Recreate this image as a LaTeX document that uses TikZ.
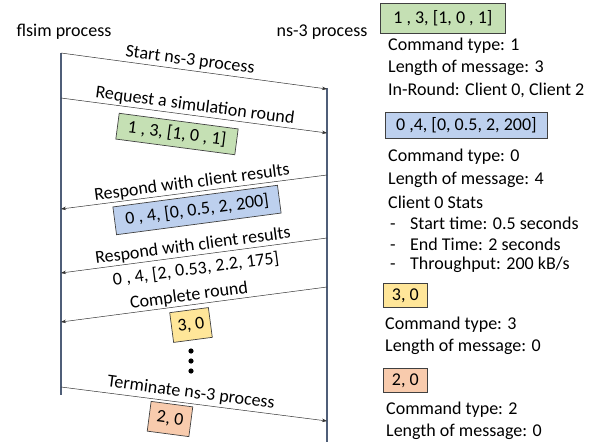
\documentclass[tikz,border=0pt]{standalone}
\usepackage{fontspec}
\setmainfont{Carlito}
\usetikzlibrary{arrows.meta}
\definecolor{lifeline}{HTML}{4F5E78}
\definecolor{boxgreen}{HTML}{C5E0B4}
\definecolor{boxblue}{HTML}{BDD0EE}
\definecolor{boxyellow}{HTML}{FFE699}
\definecolor{boxorange}{HTML}{F8CBAD}
\newcommand{\bulletdash}{\makebox[20pt][l]{-}}
\tikzset{
  life/.style={draw=lifeline, line width=1.6pt},
  msgline/.style={draw=black!80, line width=0.5pt, -{Stealth[length=5pt,width=3.5pt]}},
  msgbox/.style={draw=black!75, line width=0.7pt, inner sep=0pt},
  txt/.style={inner sep=0pt, anchor=west},
  lbl/.style={inner sep=0pt}
}
\begin{document}
\begin{tikzpicture}[x=1pt,y=-1pt,font=\fontsize{18}{21}\selectfont]
\useasboundingbox (0,0) rectangle (602,444);

% process headers
\node[lbl] (flsim) at (64,32) {flsim process};
\node[lbl] (ns3) at (322,32) {ns-3 process};

% lifelines
\coordinate (Ltop) at (61,53);
\coordinate (Lbot) at (61,395);
\coordinate (Rtop) at (327,88);
\coordinate (Rbot) at (327,442);
\draw[life] (Ltop) -- (Lbot);
\draw[life] (Rtop) -- (Rbot);

% message end points
\coordinate (a1) at (61,53);  \coordinate (b1) at (327,89);
\coordinate (a2) at (61,98);  \coordinate (b2) at (327,133);
\coordinate (b3) at (327,175); \coordinate (a3) at (61,209);
\coordinate (b4) at (327,238); \coordinate (a4) at (61,273);
\coordinate (b5) at (327,287); \coordinate (a5) at (61,322);
\coordinate (a6) at (61,387); \coordinate (b6) at (327,421);

\draw[msgline] (a1) -- (b1);
\draw[msgline] (a2) -- (b2);
\draw[msgline] (b3) -- (a3);
\draw[msgline] (b4) -- (a4);
\draw[msgline] (b5) -- (a5);
\draw[msgline] (a6) -- (b6);

% message labels
\node[lbl, rotate=-7.5] (m1) at (190,61) {Start ns-3 process};
\node[lbl, rotate=-7.5] (m2) at (195,106) {Request a simulation round};
\node[msgbox, rotate=-7.5, fill=boxgreen, minimum width=120pt, minimum height=26pt] (m2b) at (177,134) {1 , 3, [1, 0 , 1]};
\node[lbl, rotate=7.5] (m3) at (192,183) {Respond with client results};
\node[msgbox, rotate=7.5, fill=boxblue, minimum width=166pt, minimum height=28pt] (m3b) at (197,210) {0 , 4, [0, 0.5, 2, 200]};
\node[lbl, rotate=7.5] (m4) at (193,246) {Respond with client results};
\node[lbl, rotate=7.5] (m4b) at (196,269) {0 , 4, [2, 0.53, 2.2, 175]};
\node[lbl, rotate=7.5] (m5) at (189,296) {Complete round};
\node[msgbox, rotate=7.5, fill=boxyellow, minimum width=39pt, minimum height=30pt] (m5b) at (191,325) {3, 0};
\node[lbl, rotate=-7.5] (m6) at (191,393) {Terminate ns-3 process};
\node[msgbox, rotate=-7.5, fill=boxorange, minimum width=42pt, minimum height=30pt] (m6b) at (170,419) {2, 0};

% continuation dots
\foreach \i/\yy in {1/351,2/361,3/371}
  \fill (191,\yy) circle (2.6pt) coordinate (dot\i);

% legend of commands
\node[msgbox, fill=boxgreen, anchor=north west, minimum width=125pt, minimum height=30pt] (k1) at (380,3) {1 , 3, [1, 0 , 1]};
\node[txt] (k1a) at (388,46) {Command type: 1};
\node[txt] (k1b) at (388,68) {Length of message: 3};
\node[txt] (k1c) at (388,90) {In-Round: Client 0, Client 2};

\node[msgbox, fill=boxblue, anchor=north west, minimum width=162pt, minimum height=26pt] (k2) at (385,112) {0 ,4, [0, 0.5, 2, 200]};
\node[txt] (k2a) at (388,157) {Command type: 0};
\node[txt] (k2b) at (388,180) {Length of message: 4};
\node[txt] (k2c) at (388,202) {Client 0 Stats};
\node[txt] (k2d) at (390,223) {\bulletdash Start time: 0.5 seconds};
\node[txt] (k2e) at (390,244) {\bulletdash End Time: 2 seconds};
\node[txt] (k2f) at (390,265) {\bulletdash Throughput: 200 kB/s};

\node[msgbox, fill=boxyellow, anchor=north west, minimum width=44pt, minimum height=24pt] (k3) at (383,283) {3, 0};
\node[txt] (k3a) at (385,325) {Command type: 3};
\node[txt] (k3b) at (385,347) {Length of message: 0};

\node[msgbox, fill=boxorange, anchor=north west, minimum width=44pt, minimum height=24pt] (k4) at (383,368) {2, 0};
\node[txt] (k4a) at (386,410) {Command type: 2};
\node[txt] (k4b) at (386,432) {Length of message: 0};
\end{tikzpicture}
\end{document}
